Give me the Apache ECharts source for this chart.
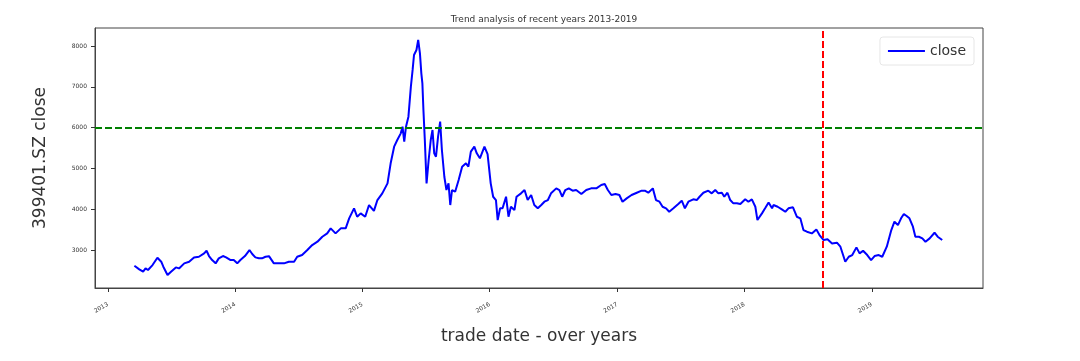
<!DOCTYPE html>
<html>
<head>
<meta charset="utf-8">
<script src="https://cdn.jsdelivr.net/npm/echarts@6/dist/echarts.min.js"></script>
<style>
  html, body { margin: 0; padding: 0; background: #fff; }
  #main { width: 1080px; height: 361px; }
</style>
</head>
<body>
<div id="main"></div>
<script>
  // values
  var tradeDates = [
    '2013-03-18', '2013-04-01', '2013-04-12', '2013-04-19', '2013-04-26', '2013-05-09', '2013-05-23', '2013-06-03',
    '2013-06-09', '2013-06-21', '2013-07-01', '2013-07-15', '2013-07-24', '2013-08-08', '2013-08-22', '2013-09-05',
    '2013-09-19', '2013-10-04', '2013-10-11', '2013-10-18', '2013-10-27', '2013-11-06', '2013-11-15', '2013-11-27',
    '2013-12-06', '2013-12-19', '2013-12-28',
    '2014-01-07', '2014-01-16', '2014-01-29', '2014-02-11', '2014-02-19', '2014-02-28', '2014-03-10', '2014-03-19',
    '2014-03-29', '2014-04-08', '2014-04-22', '2014-05-06', '2014-05-21', '2014-06-04', '2014-06-19', '2014-06-28',
    '2014-07-12', '2014-07-27', '2014-08-10', '2014-08-25', '2014-09-08', '2014-09-22', '2014-10-02', '2014-10-16',
    '2014-10-31', '2014-11-14', '2014-11-24', '2014-12-08', '2014-12-17', '2014-12-27',
    '2015-01-09', '2015-01-20', '2015-02-03', '2015-02-13', '2015-02-27', '2015-03-14', '2015-03-23', '2015-04-02',
    '2015-04-11', '2015-04-21', '2015-04-26', '2015-05-01', '2015-05-06', '2015-05-13', '2015-05-20', '2015-05-25',
    '2015-05-29', '2015-06-05', '2015-06-10', '2015-06-15', '2015-06-19', '2015-06-22', '2015-06-25', '2015-06-29',
    '2015-07-04', '2015-07-10', '2015-07-16', '2015-07-21', '2015-07-26', '2015-07-31', '2015-08-06', '2015-08-12',
    '2015-08-17', '2015-08-24', '2015-08-30', '2015-09-05', '2015-09-10', '2015-09-15', '2015-09-24', '2015-10-04',
    '2015-10-14', '2015-10-25', '2015-11-01', '2015-11-08', '2015-11-18', '2015-11-25', '2015-12-04', '2015-12-17',
    '2015-12-26',
    '2016-01-04', '2016-01-11', '2016-01-19', '2016-01-24', '2016-01-31', '2016-02-07', '2016-02-17', '2016-02-24',
    '2016-03-02', '2016-03-12', '2016-03-18', '2016-03-31', '2016-04-10', '2016-04-19', '2016-04-29', '2016-05-08',
    '2016-05-18', '2016-05-28', '2016-06-06', '2016-06-16', '2016-06-25', '2016-07-10', '2016-07-19', '2016-07-27',
    '2016-08-05', '2016-08-15', '2016-08-26', '2016-09-05', '2016-09-20', '2016-10-04', '2016-10-18', '2016-11-02',
    '2016-11-16', '2016-11-26', '2016-12-05', '2016-12-15', '2016-12-27',
    '2017-01-07', '2017-01-16', '2017-01-28', '2017-02-11', '2017-02-26', '2017-03-12', '2017-03-21', '2017-03-31',
    '2017-04-13', '2017-04-22', '2017-05-02', '2017-05-11', '2017-05-21', '2017-05-30', '2017-06-11', '2017-06-25',
    '2017-07-05', '2017-07-14', '2017-07-24', '2017-08-07', '2017-08-17', '2017-08-25', '2017-09-05', '2017-09-19',
    '2017-09-29', '2017-10-09', '2017-10-18', '2017-10-28', '2017-11-04', '2017-11-13', '2017-11-21', '2017-11-30',
    '2017-12-10', '2017-12-20',
    '2018-01-03', '2018-01-12', '2018-01-22', '2018-02-01', '2018-02-07', '2018-02-20', '2018-03-01', '2018-03-11',
    '2018-03-21', '2018-03-25', '2018-04-06', '2018-04-18', '2018-04-28', '2018-05-07', '2018-05-20', '2018-05-31',
    '2018-06-10', '2018-06-19', '2018-06-29', '2018-07-13', '2018-07-26', '2018-08-04', '2018-08-16', '2018-08-27',
    '2018-09-09', '2018-09-23', '2018-10-03', '2018-10-08', '2018-10-17', '2018-10-27', '2018-11-06', '2018-11-18',
    '2018-11-27', '2018-12-07', '2018-12-19', '2018-12-30',
    '2019-01-09', '2019-01-21', '2019-01-31', '2019-02-13', '2019-02-26', '2019-03-07', '2019-03-17', '2019-03-26',
    '2019-04-03', '2019-04-11', '2019-04-19', '2019-04-29', '2019-05-06', '2019-05-16', '2019-05-26', '2019-06-04',
    '2019-06-16', '2019-06-30', '2019-07-09', '2019-07-22'
  ];
  var closeValues = [
    2615, 2527, 2470, 2551, 2510, 2632, 2811, 2714,
    2591, 2387, 2470, 2575, 2550, 2674, 2714, 2820,
    2836, 2918, 2983, 2853, 2755, 2674, 2796, 2853,
    2820, 2755, 2755,
    2674, 2755, 2853, 3000, 2902, 2820, 2800, 2796,
    2836, 2850, 2674, 2674, 2674, 2714, 2714, 2836,
    2877, 3000, 3122, 3204, 3326, 3408, 3531, 3408,
    3531, 3531, 3777, 4022, 3816, 3899,
    3816, 4103, 3960, 4225, 4389, 4634, 5125, 5532,
    5696, 5859, 6022, 5655, 6022, 6267, 7002, 7412,
    7779, 7902, 8147, 7820, 7330, 7085, 6431, 5696,
    4634, 5206, 5696, 5941, 5370, 5287, 5777, 6145,
    5451, 4796, 4470, 4634, 4103, 4470, 4429, 4716,
    5042, 5125, 5042, 5410, 5532, 5370, 5247, 5532,
    5350,
    4634, 4306, 4225, 3735, 4022, 4022, 4306, 3816,
    4061, 3980, 4306, 4389, 4470, 4225, 4348, 4103,
    4022, 4103, 4184, 4225, 4389, 4511, 4470, 4306,
    4470, 4511, 4454, 4470, 4372, 4470, 4511, 4511,
    4593, 4617, 4470, 4348, 4372,
    4348, 4184, 4266, 4348, 4404, 4454, 4454, 4404,
    4511, 4225, 4184, 4061, 4022, 3939, 4022, 4127,
    4208, 4022, 4184, 4243, 4225, 4306, 4404, 4454,
    4389, 4470, 4389, 4404, 4306, 4404, 4225, 4144,
    4144, 4127,
    4243, 4184, 4243, 4061, 3735, 3899, 4022, 4164,
    4022, 4103, 4061, 3997, 3939, 4022, 4046, 3816,
    3777, 3490, 3449, 3408, 3506, 3367, 3245, 3262,
    3163, 3180, 3082, 3041, 2714, 2836, 2877, 3065,
    2918, 2983, 2877, 2755,
    2853, 2877, 2836, 3082, 3490, 3694, 3612, 3777,
    3882, 3833, 3777, 3571, 3326, 3326, 3286, 3204,
    3286, 3424, 3326, 3245
  ];
  var yearTicks = [2013, 2014, 2015, 2016, 2017, 2018, 2019];
  var closeTicks = [3000, 4000, 5000, 6000, 7000, 8000];
  var refLevel = 6000;
  var refDate = '2018-08-12';

  var yearStamps = yearTicks.map(function (y) { return new Date(y, 0, 1).getTime(); });
  var seriesData = tradeDates.map(function (d, i) { return [d, closeValues[i]]; });

  var myChart = echarts.init(document.getElementById('main'));
  myChart.setOption({
    animation: false,
    title: {
      text: 'Trend analysis of recent years 2013-2019',
      left: 539,
      textAlign: 'center',
      top: 10,
      textStyle: { fontSize: 9, fontWeight: 'normal', color: '#333', fontFamily: 'DejaVu Sans' }
    },
    legend: {
      data: ['close'],
      right: 106,
      top: 37,
      icon: 'rect',
      itemWidth: 37,
      itemHeight: 2,
      itemGap: 10,
      padding: [7, 8, 7, 8],
      borderColor: '#e6e6e6',
      borderWidth: 1,
      borderRadius: 3,
      textStyle: { fontSize: 14, color: '#333', fontFamily: 'DejaVu Sans' }
    },
    grid: {
      left: 95,
      right: 97,
      top: 28,
      bottom: 73,
      show: true,
      borderColor: '#444',
      borderWidth: 1
    },
    xAxis: {
      type: 'time',
      min: '2012-11-25',
      max: '2019-11-16',
      name: 'trade date - over years',
      nameLocation: 'middle',
      nameGap: 40,
      nameTextStyle: { fontSize: 17, color: '#333', fontFamily: 'DejaVu Sans' },
      axisLine: { lineStyle: { color: '#444', width: 1 } },
      axisTick: { show: true, length: 4, customValues: yearStamps, lineStyle: { color: '#333' } },
      axisLabel: {
        customValues: yearStamps,
        formatter: '{yyyy}',
        rotate: 30,
        fontSize: 6,
        margin: 16,
        color: '#333',
        fontFamily: 'DejaVu Sans'
      },
      splitLine: { show: false }
    },
    yAxis: {
      type: 'value',
      min: 2070,
      max: 8440,
      name: '399401.SZ close',
      nameLocation: 'middle',
      nameGap: 46,
      nameTextStyle: { fontSize: 17, color: '#333', fontFamily: 'DejaVu Sans' },
      axisLine: { show: true, lineStyle: { color: '#444', width: 1 } },
      axisTick: { show: true, length: 4, customValues: closeTicks, lineStyle: { color: '#333' } },
      axisLabel: {
        customValues: closeTicks,
        formatter: function (v) { return String(v); },
        fontSize: 6,
        margin: 8,
        color: '#333',
        fontFamily: 'DejaVu Sans'
      },
      splitLine: { show: false }
    },
    series: [
      {
        name: 'close',
        type: 'line',
        data: seriesData,
        showSymbol: false,
        lineStyle: { color: '#0000ff', width: 2 },
        itemStyle: { color: '#0000ff' },
        markLine: {
          silent: true,
          symbol: 'none',
          label: { show: false },
          data: [
            { yAxis: refLevel, lineStyle: { color: '#008000', type: [7, 3], width: 2 } },
            { xAxis: refDate, lineStyle: { color: '#ff0000', type: [7, 3], width: 2 } }
          ]
        }
      }
    ]
  });
</script>
</body>
</html>
